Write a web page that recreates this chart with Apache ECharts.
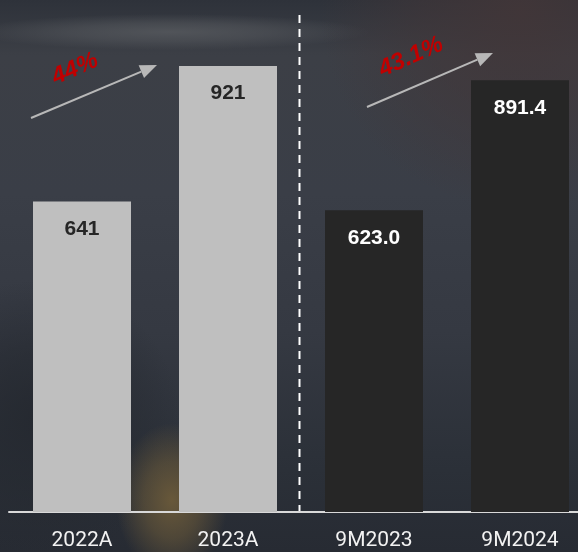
<!DOCTYPE html>
<html>
<head>
<meta charset="utf-8">
<script src="https://cdn.jsdelivr.net/npm/echarts@6/dist/echarts.min.js"></script>
<style>
  html, body { margin: 0; padding: 0; }
  #chart { width: 578px; height: 552px; }
</style>
</head>
<body>
<div id="chart"></div>
<script>
  // data
  const categories = ['2022A', '2023A', '9M2023', '9M2024']
  const values = [641, 921, 623.0, 891.4]
  const valueLabels = ['641', '921', '623.0', '891.4']
  const isNineMonth = [false, false, true, true]
  const growthLabels = ['44%', '43.1%']

  const chart = echarts.init(document.getElementById('chart'))

  // simple arrow: line + triangle head
  function arrow(x1, y1, x2, y2) {
    const ang = Math.atan2(y2 - y1, x2 - x1)
    const len = 17, half = 7
    const bx = x2 - len * Math.cos(ang), by = y2 - len * Math.sin(ang)
    const nx = -Math.sin(ang), ny = Math.cos(ang)
    return {
      type: 'group', z: 20,
      children: [{
        type: 'line', z: 20,
        shape: { x1: x1, y1: y1, x2: bx, y2: by },
        style: { stroke: '#b8b8b8', lineWidth: 2 }
      }, {
        type: 'polygon', z: 20,
        shape: { points: [[x2, y2], [bx + nx * half, by + ny * half], [bx - nx * half, by - ny * half]] },
        style: { fill: '#b8b8b8' }
      }]
    }
  }

  function growthText(txt, x, y) {
    return {
      type: 'text', z: 20, x: x, y: y, rotation: 0.42,
      style: {
        text: txt, fill: '#c00000', align: 'center', verticalAlign: 'middle',
        font: 'italic bold 24px "Liberation Sans", Arial, sans-serif'
      }
    }
  }

  // soft blob helper (circle squashed into an ellipse)
  function blob(cx, cy, r, sx, sy, color, alpha) {
    return {
      type: 'circle', z: -10, silent: true,
      x: cx, y: cy, scaleX: sx, scaleY: sy,
      shape: { cx: 0, cy: 0, r: r },
      style: {
        fill: new echarts.graphic.RadialGradient(0.5, 0.5, 0.5, [
          { offset: 0, color: 'rgba(' + color + ',' + alpha + ')' },
          { offset: 0.5, color: 'rgba(' + color + ',' + alpha * 0.6 + ')' },
          { offset: 1, color: 'rgba(' + color + ',0)' }
        ])
      }
    }
  }

  const background = [
    blob(170, 32, 200, 1, 0.09, '84,87,92', 0.9),     // light streak at top
    blob(520, 10, 200, 1, 1, '66,54,56', 0.9),        // brownish tint top right
    blob(40, 420, 140, 1, 1, '36,40,47', 0.9),        // dark patch lower left
    blob(172, 500, 70, 0.8, 1.1, '104,88,58', 1)      // warm glow near the bottom
  ]

  const option = {
    animation: false,
    backgroundColor: new echarts.graphic.LinearGradient(0, 0, 0, 1, [
      { offset: 0, color: '#2e323a' },
      { offset: 0.1, color: '#3c3f46' },
      { offset: 0.35, color: '#3a3e47' },
      { offset: 0.6, color: '#353942' },
      { offset: 0.85, color: '#2b3038' },
      { offset: 1, color: '#272b33' }
    ]),
    grid: { left: 9, width: 584, top: 0, bottom: 40, outerBoundsMode: 'none', containLabel: false },
    xAxis: {
      type: 'category',
      data: categories,
      axisLine: { lineStyle: { color: '#d9d9d9', width: 2 } },
      axisTick: { show: false },
      axisLabel: {
        color: '#f2f2f2', fontSize: 21, margin: 18,
        fontFamily: 'Roboto, "Noto Sans", sans-serif'
      }
    },
    yAxis: {
      type: 'value', min: 0, max: 1057, show: false,
      splitLine: { show: false }
    },
    graphic: background,
    series: [{
      type: 'bar',
      barWidth: 98,
      data: values.map(function (v, i) {
        return {
          value: v,
          itemStyle: { color: isNineMonth[i] ? '#262626' : '#bfbfbf' },
          label: { color: isNineMonth[i] ? '#ffffff' : '#262626' }
        }
      }),
      label: {
        show: true,
        position: 'insideTop',
        distance: 17,
        fontSize: 21,
        fontWeight: 'bold',
        fontFamily: '"Liberation Sans", Arial, sans-serif',
        formatter: function (p) { return valueLabels[p.dataIndex] }
      }
    }]
  }

  chart.setOption(option)

  // dashed separator between actual years and 9M periods
  const xa = chart.convertToPixel({ xAxisIndex: 0 }, categories[1])
  const xb = chart.convertToPixel({ xAxisIndex: 0 }, categories[2])
  const base = chart.convertToPixel({ yAxisIndex: 0 }, 0)
  const sepX = Math.round((xa + xb) / 2) - 1.5

  chart.setOption({
    graphic: background.concat([
      {
        type: 'line', z: 15,
        shape: { x1: sepX, y1: 15, x2: sepX, y2: base - 1 },
        style: { stroke: '#ffffff', lineWidth: 2, lineDash: [8, 6] }
      },
      arrow(31, 118, 157, 65),
      arrow(367, 107, 493, 53),
      growthText(growthLabels[0], 75, 69),
      growthText(growthLabels[1], 411, 57)
    ])
  }, { replaceMerge: ['graphic'] })
</script>
</body>
</html>
